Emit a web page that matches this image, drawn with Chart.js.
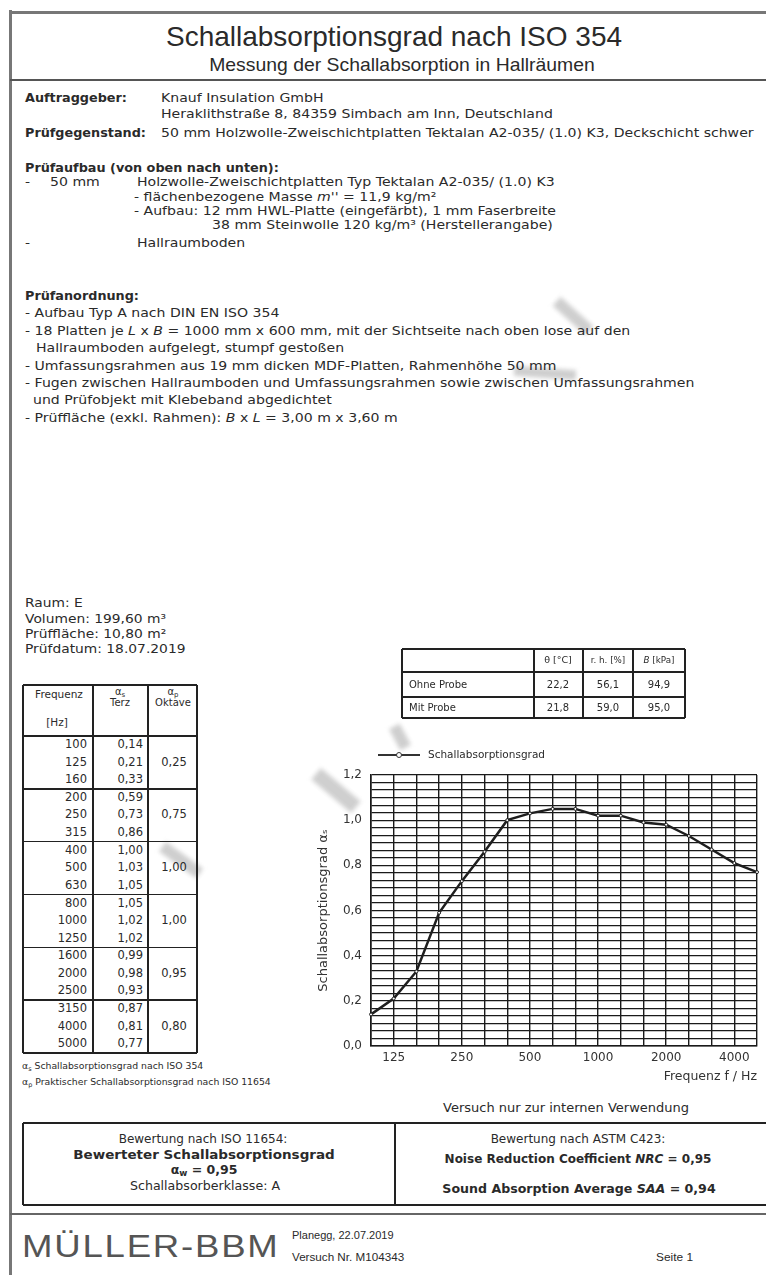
<!DOCTYPE html>
<html>
<head>
<meta charset="utf-8">
<script src="https://cdn.jsdelivr.net/npm/chart.js@4.4.1/dist/chart.umd.min.js"></script>
<style>
  body { margin: 0; background: #fff; }
  #page { position: relative; width: 766px; height: 1275px; overflow: hidden;
          font-family: "DejaVu Sans", sans-serif; color: #2a2a2a; }
  .t { position: absolute; white-space: nowrap; line-height: 1; }
  .ln { position: absolute; background: #222; }
  .wm { position: absolute; background: #cfcfcf; filter: blur(2px); }
  sub { font-size: 70%; vertical-align: -0.25em; line-height: 0; }
</style>
</head>
<body>
<div id="page">
  <canvas id="myChart" width="450" height="343" style="position:absolute;left:316px;top:745px;"></canvas>
</div>
<script>
// Terzband-Frequenzen und Messwerte
const freqs = [100, 125, 160, 200, 250, 315, 400, 500, 630, 800, 1000, 1250, 1600, 2000, 2500, 3150, 4000, 5000];
const alphaS = [0.14, 0.21, 0.33, 0.59, 0.73, 0.86, 1.00, 1.03, 1.05, 1.05, 1.02, 1.02, 0.99, 0.98, 0.93, 0.87, 0.81, 0.77];
const alphaP = [0.25, 0.75, 1.00, 1.00, 0.95, 0.80]; // Oktave
const xTickShown = [125, 250, 500, 1000, 2000, 4000];

// Klima im Hallraum
const climateRows = ["Ohne Probe", "Mit Probe"];
const climateTemp = [22.2, 21.8];
const climateHum = [56.1, 59.0];
const climatePress = [94.9, 95.0];

const page = document.getElementById("page");
const fmt = (v, d) => v.toFixed(d).replace(".", ",");
const ARIAL = '"Liberation Sans", Arial, sans-serif';

function txt(x, y, s, size, opt = {}) {
  const d = document.createElement("div");
  d.className = "t";
  d.innerHTML = s;
  d.style.left = x + "px";
  d.style.top = y + "px";
  d.style.fontSize = size + "px";
  const a = opt.align || "left";
  const ax = a === "center" ? "-50%" : a === "right" ? "-100%" : "0";
  d.style.transformOrigin = a + " center";
  d.style.transform = "translate(" + ax + ",-50%)" + (opt.sx ? " scaleX(" + opt.sx + ")" : "");
  if (opt.bold) d.style.fontWeight = "bold";
  if (opt.color) d.style.color = opt.color;
  if (opt.ls) d.style.letterSpacing = opt.ls + "px";
  if (opt.ff) d.style.fontFamily = opt.ff;
  page.appendChild(d);
}
// Fließtext (leicht breit gezogen wie im Original), fette Überschriften ohne Streckung
const F = 12.8;
const body = (x, y, s, bold) => txt(x, y, s, F, bold ? { bold: true } : { sx: 1.1 });

function hline(x1, x2, y, w = 1.5, c = "#222") {
  const d = document.createElement("div");
  d.className = "ln";
  Object.assign(d.style, { left: x1 + "px", top: (y - w / 2) + "px", width: (x2 - x1) + "px", height: w + "px", background: c });
  page.appendChild(d);
}
function vline(x, y1, y2, w = 1.5, c = "#222") {
  const d = document.createElement("div");
  d.className = "ln";
  Object.assign(d.style, { left: (x - w / 2) + "px", top: y1 + "px", width: w + "px", height: (y2 - y1) + "px", background: c });
  page.appendChild(d);
}
// Wasserzeichen-Striche
function wm(cx, cy, len, thick, ang) {
  const d = document.createElement("div");
  d.className = "wm";
  Object.assign(d.style, { left: (cx - len / 2) + "px", top: (cy - thick / 2) + "px", width: len + "px", height: thick + "px",
    transform: "rotate(" + ang + "deg)" });
  page.appendChild(d);
}
wm(573, 316, 44, 12, 42);
wm(545, 373, 62, 10, 4);
wm(400, 737, 24, 12, 62);
wm(336, 790, 52, 15, 40);
wm(181, 860, 46, 12, 36);

// Rahmen
vline(10, 10, 1275, 3, "#777");
hline(10, 766, 12, 3, "#777");
hline(10, 766, 80, 2, "#555");
hline(10, 766, 1214, 2, "#666");

// Kopf
txt(394, 37, "Schallabsorptionsgrad nach ISO 354", 28, { align: "center", ff: ARIAL });
txt(402, 63.5, "Messung der Schallabsorption in Hallräumen", 19, { align: "center", ff: ARIAL, sx: 1.02 });

body(25, 98, "Auftraggeber:", true);
body(161, 98, "Knauf Insulation GmbH");
body(161, 114, "Heraklithstraße 8, 84359 Simbach am Inn, Deutschland");
body(25, 133, "Prüfgegenstand:", true);
body(161, 133, "50 mm Holzwolle-Zweischichtplatten Tektalan A2-035/ (1.0) K3, Deckschicht schwer");

body(25, 168, "Prüfaufbau (von oben nach unten):", true);
body(25, 182, "-");
body(50, 182, "50 mm");
body(137, 182, "Holzwolle-Zweischichtplatten Typ Tektalan A2-035/ (1.0) K3");
body(134, 197, "- flächenbezogene Masse <i>m''</i> = 11,9 kg/m²");
body(134, 211, "- Aufbau: 12 mm HWL-Platte (eingefärbt), 1 mm Faserbreite");
body(212, 225, "38 mm Steinwolle 120 kg/m³ (Herstellerangabe)");
body(25, 243, "-");
body(137, 243, "Hallraumboden");

const pa = [
  [25, "Prüfanordnung:", true],
  [25, "- Aufbau Typ A nach DIN EN ISO 354"],
  [25, "- 18 Platten je <i>L</i> x <i>B</i> = 1000 mm x 600 mm, mit der Sichtseite nach oben lose auf den"],
  [36, "Hallraumboden aufgelegt, stumpf gestoßen"],
  [25, "- Umfassungsrahmen aus 19 mm dicken MDF-Platten, Rahmenhöhe 50 mm"],
  [25, "- Fugen zwischen Hallraumboden und Umfassungsrahmen sowie zwischen Umfassungsrahmen"],
  [33, "und Prüfobjekt mit Klebeband abgedichtet"],
  [25, "- Prüffläche (exkl. Rahmen): <i>B</i> x <i>L</i> = 3,00 m x 3,60 m"]
];
pa.forEach((p, i) => body(p[0], 296 + i * 17.4, p[1], !!p[2]));

txt(25, 603, "Raum: E", F, { sx: 1.08 });
txt(25, 619, "Volumen: 199,60 m³", F, { sx: 1.08 });
txt(25, 634, "Prüffläche: 10,80 m²", F, { sx: 1.08 });
txt(25, 649, "Prüfdatum: 18.07.2019", F, { sx: 1.08 });

// Tabelle Terz / Oktave
const tL = 23, tR = 197, c1 = 93, c2 = 148, tTop = 685, hBot = 736, tBot = 1053;
hline(tL, tR, tTop); hline(tL, tR, tBot);
vline(tL, tTop, tBot); vline(tR, tTop, tBot); vline(c1, tTop, tBot); vline(c2, tTop, tBot);
txt(59, 694, "Frequenz", 10.5, { align: "center" });
txt(57, 722, "[Hz]", 10.5, { align: "center" });
txt(120, 692, "α<sub>s</sub>", 10, { align: "center" });
txt(120, 703, "Terz", 10, { align: "center" });
txt(173, 692, "α<sub>p</sub>", 10, { align: "center" });
txt(173, 703, "Oktave", 10, { align: "center" });
const gH = (tBot - hBot) / alphaP.length;
for (let g = 0; g < alphaP.length; g++) {
  const top = hBot + g * gH;
  hline(tL, tR, top);
  for (let r = 0; r < 3; r++) {
    const i = g * 3 + r;
    const y = top + 9 + r * 17.5;
    txt(87, y, String(freqs[i]), 11.5, { align: "right" });
    txt(143, y, fmt(alphaS[i], 2), 11.5, { align: "right" });
  }
  txt(174, top + 26.5, fmt(alphaP[g], 2), 11.5, { align: "center" });
}
txt(22, 1066, "α<sub>s</sub> Schallabsorptionsgrad nach ISO 354", 9.3);
txt(22, 1082, "α<sub>p</sub> Praktischer Schallabsorptionsgrad nach ISO 11654", 9.3);

// Klimatabelle
const kx = [402, 534, 583, 633, 685], ky = [649, 672, 697, 718];
ky.forEach(y => hline(kx[0], kx[4], y, 1.3));
kx.forEach(x => vline(x, ky[0], ky[3], 1.3));
txt(558, 660, "θ [°C]", 9.5, { align: "center" });
txt(608, 660, "r. h. [%]", 9.5, { align: "center", sx: 0.92 });
txt(659, 660, "<i>B</i> [kPa]", 9.5, { align: "center", sx: 0.92 });
climateRows.forEach((name, i) => {
  const y = (ky[i + 1] + ky[i + 2]) / 2;
  txt(409, y, name, 10);
  txt(558, y, fmt(climateTemp[i], 1), 10, { align: "center" });
  txt(608, y, fmt(climateHum[i], 1), 10, { align: "center" });
  txt(659, y, fmt(climatePress[i], 1), 10, { align: "center" });
});

// Legende
hline(378, 420, 755, 1.3, "#333");
const dot = document.createElement("div");
Object.assign(dot.style, { position: "absolute", left: "396px", top: "752px", width: "4px", height: "4px",
  border: "1px solid #333", borderRadius: "50%", background: "#fff" });
page.appendChild(dot);
txt(428, 755, "Schallabsorptionsgrad", 10, { sx: 1.05 });

// Diagramm
const ctx = document.getElementById("myChart");
new Chart(ctx, {
  type: "line",
  data: {
    labels: freqs.map(String),
    datasets: [{
      label: "Schallabsorptionsgrad",
      data: alphaS,
      borderColor: "#1e1e1e",
      borderWidth: 2.5,
      pointRadius: 1.5,
      pointBackgroundColor: "#fff",
      pointBorderColor: "#1e1e1e",
      pointBorderWidth: 1,
      tension: 0
    }]
  },
  options: {
    responsive: false,
    animation: false,
    layout: { padding: { top: 30, right: 9, left: 0, bottom: 0 } },
    plugins: { legend: { display: false }, tooltip: { enabled: false } },
    scales: {
      x: {
        offset: false,
        grid: { color: "#1a1a1a", lineWidth: 1.4, drawTicks: false },
        border: { color: "#1a1a1a", width: 1.6 },
        ticks: {
          autoSkip: false, maxRotation: 0, padding: 5, color: "#333",
          font: { size: 12, family: "DejaVu Sans" },
          callback: (v, i) => xTickShown.includes(freqs[i]) ? String(freqs[i]) : ""
        },
        title: { display: true, text: "Frequenz f / Hz", align: "end", color: "#333",
                 font: { size: 12.5, family: "DejaVu Sans" }, padding: { top: 0, bottom: 4 } },
        afterFit: s => { s.height = 42; }
      },
      y: {
        min: 0, max: 1.2,
        grid: { color: "#1a1a1a", lineWidth: 1.2, drawTicks: false },
        border: { color: "#1a1a1a", width: 1.6 },
        ticks: {
          count: 37, autoSkip: false, padding: 9, color: "#333",
          font: { size: 12, family: "DejaVu Sans" },
          callback: v => Math.round(v * 100) % 20 === 0 ? fmt(v, 1) : ""
        },
        title: { display: true, text: "Schallabsorptionsgrad α\u209B", color: "#333",
                 font: { size: 13, family: "DejaVu Sans" }, padding: { top: 0, bottom: 0 } },
        afterFit: s => { s.width = 55; }
      }
    }
  }
});

txt(566, 1108, "Versuch nur zur internen Verwendung", 12.5, { align: "center", sx: 1.04 });

// Bewertung
hline(23, 766, 1123); hline(23, 766, 1205);
vline(23, 1123, 1205); vline(395, 1123, 1205);
txt(203, 1139, "Bewertung nach ISO 11654:", 12, { align: "center" });
txt(204, 1155, "Bewerteter Schallabsorptionsgrad", 12.5, { align: "center", bold: true, sx: 1.08 });
txt(204, 1170, "α<sub>w</sub> = 0,95", 12.5, { align: "center", bold: true });
txt(205, 1186, "Schallabsorberklasse: A", 12, { align: "center", sx: 1.05 });
txt(578, 1139, "Bewertung nach ASTM C423:", 12, { align: "center" });
txt(578, 1159, "Noise Reduction Coefficient <i>NRC</i> = 0,95", 12, { align: "center", bold: true });
txt(579, 1189, "Sound Absorption Average <i>SAA</i> = 0,94", 12, { align: "center", bold: true, sx: 1.05 });

// Fußzeile
txt(22, 1246, "MÜLLER-BBM", 31, { color: "#555", ls: 1.5, sx: 1.18, ff: ARIAL });
txt(292, 1235, "Planegg, 22.07.2019", 11, { ff: ARIAL });
txt(292, 1257, "Versuch Nr. M104343", 11, { ff: ARIAL, sx: 1.06 });
txt(656, 1257, "Seite 1", 11, { ff: ARIAL, sx: 1.08 });
</script>
</body>
</html>
